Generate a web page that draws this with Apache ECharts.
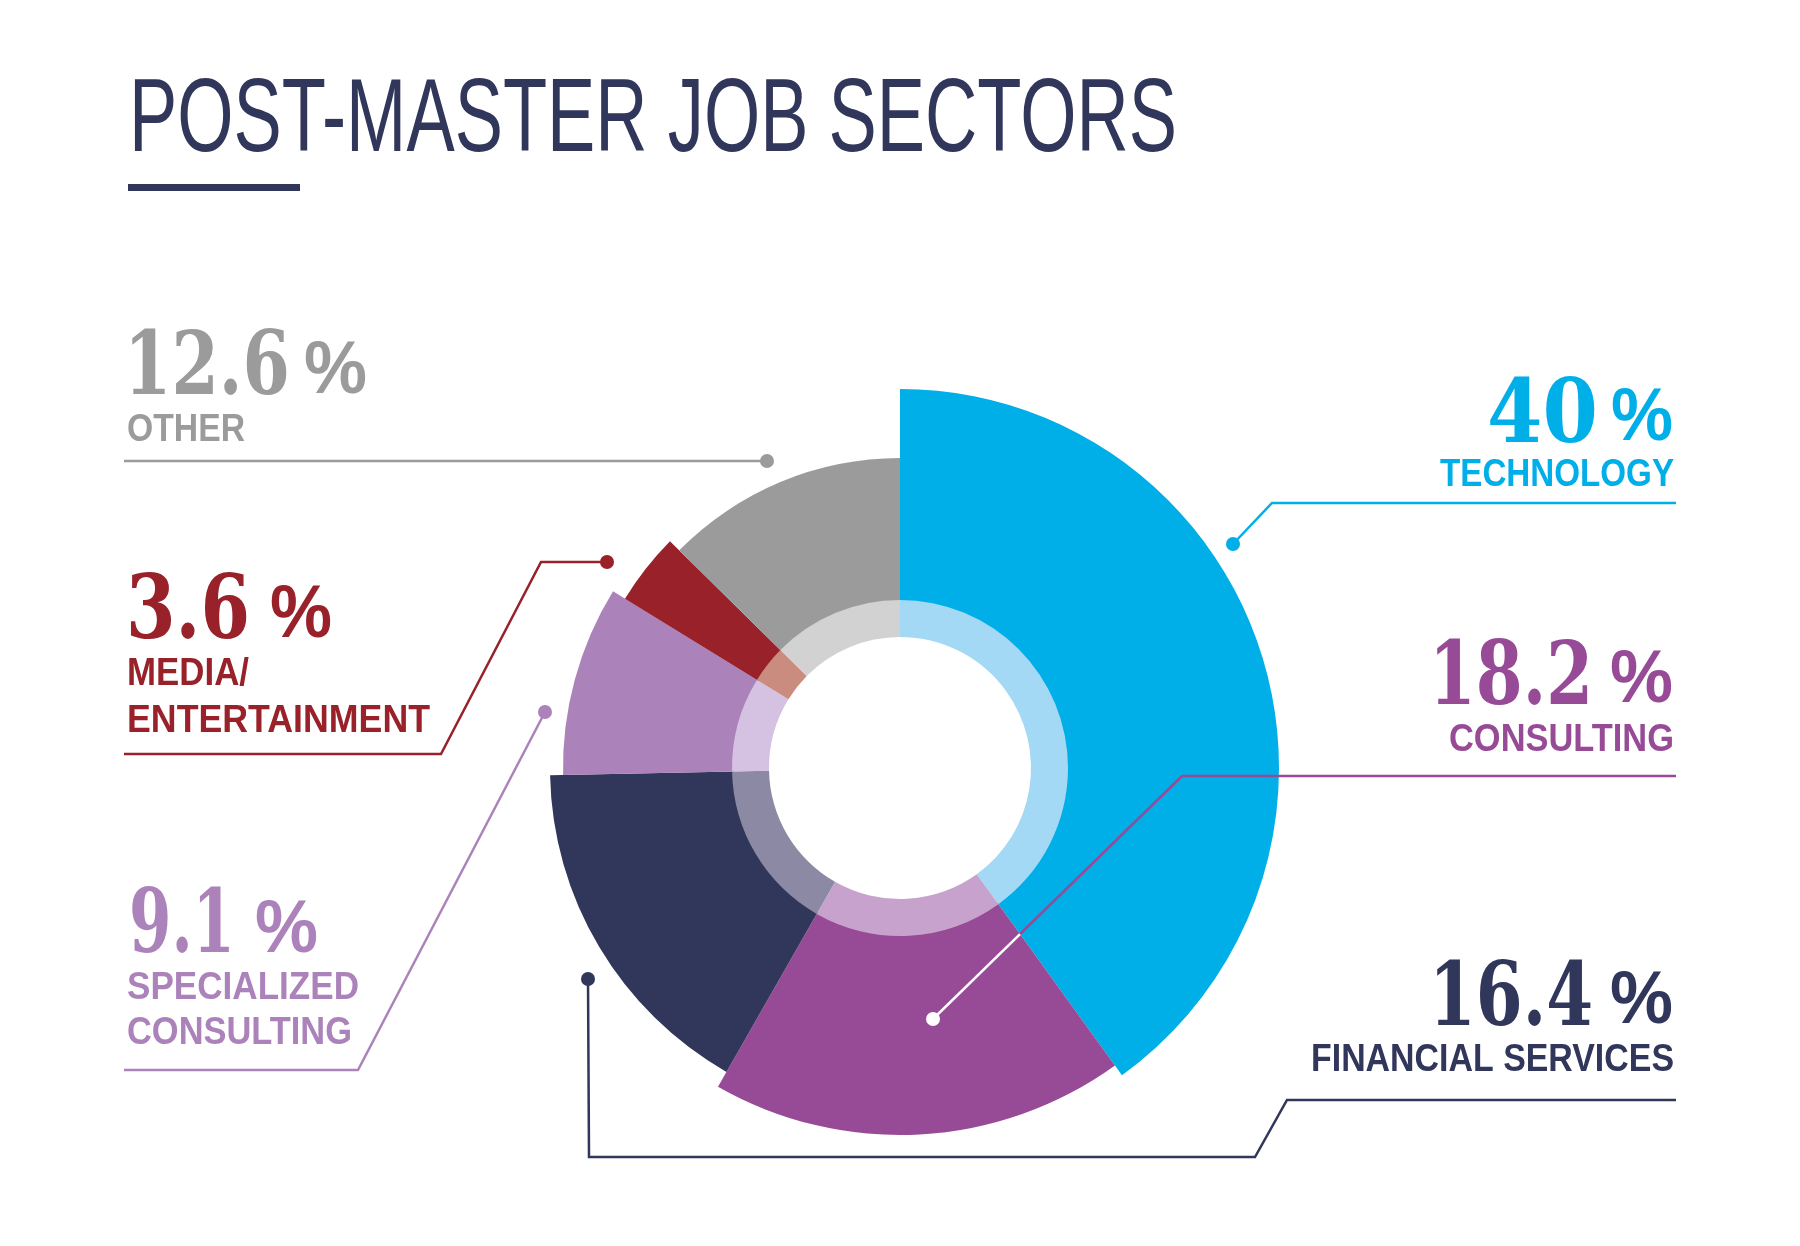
<!DOCTYPE html>
<html><head><meta charset="utf-8">
<script src="https://cdn.jsdelivr.net/npm/echarts@6/dist/echarts.min.js"></script>
<style>html,body{margin:0;padding:0;background:#fff}#chart{width:1800px;height:1246px}</style>
</head><body><div id="chart"></div>
<script>
// ---------- data ----------
const title = 'POST-MASTER JOB SECTORS';
const categories = ['Technology', 'Consulting', 'Financial Services', 'Specialized Consulting', 'Media/Entertainment', 'Other'];
const values = [40, 18.2, 16.4, 9.1, 3.6, 12.6];
const valueLabels = ['40', '18.2', '16.4', '9.1', '3.6', '12.6'];
const nameLines = [['TECHNOLOGY'], ['CONSULTING'], ['FINANCIAL SERVICES'], ['SPECIALIZED', 'CONSULTING'], ['MEDIA/', 'ENTERTAINMENT'], ['OTHER']];

// ---------- style / layout ----------
const colors = ['#00aee8', '#974b97', '#31365b', '#ab83ba', '#98212a', '#9b9b9b'];
const ringColors = ['#a3d9f5', '#c6a2cd', '#8b89a3', '#d5c1e1', '#c98c7f', '#d2d2d2'];
const outerR = [379, 367, 350, 337, 323, 310];
const CX = 900, CY = 768, R_IN = 131, R_RING = 168;
const NAVY = '#31365b';

// label layout: side, number box [x0,x1,centre], % box, name lines [x0,x1,centre]
const labelLayout = [
  {align: 'right', num: [1487, 1598, 419], pct: [1611, 1673, 420], names: [[1440, 1674, 475]]},
  {align: 'right', num: [1429, 1593, 681], pct: [1610, 1673, 682], names: [[1449, 1674, 740]]},
  {align: 'right', num: [1429, 1593, 1002], pct: [1610, 1673, 1003], names: [[1311, 1674, 1060]]},
  {align: 'left', num: [129, 235, 929], pct: [255, 318, 932], names: [[127, 359, 988], [127, 352, 1033]]},
  {align: 'left', num: [126, 250, 615], pct: [270, 332, 617], names: [[127, 249, 674], [127, 430, 721]]},
  {align: 'left', num: [124, 290, 371], pct: [304, 367, 373], names: [[127, 245, 430]]}
];
const leaderLines = [
  [[1233, 544], [1272, 503], [1676, 503]],
  [[933, 1019], [1182, 776], [1676, 776]],
  [[588, 979], [589, 1157], [1255, 1157], [1287, 1100], [1676, 1100]],
  [[545, 712], [358, 1070], [124, 1070]],
  [[607, 562], [541, 562], [441, 754], [124, 754]],
  [[767, 461], [124, 461]]
];

// ---------- helpers ----------
const mctx = document.createElement('canvas').getContext('2d');
function measure(text, font) { mctx.font = font; return mctx.measureText(text).width; }
function fitText(text, font, fill, x0, x1, cy, align) {
  const w = measure(text, font);
  const sx = (x1 - x0) / w;
  return {
    type: 'text', x: align === 'right' ? x1 : x0, y: cy, scaleX: sx, silent: true, z: 10,
    style: {text: text, font: font, fill: fill, textAlign: align, textVerticalAlign: 'middle'}
  };
}

const NUM_FONT = 'bold 88px "DejaVu Serif"';
const PCT_FONT = 'bold 74px "Liberation Sans"';
const NAME_FONT = 'bold 39px "Liberation Sans"';
const TITLE_FONT = 'normal 103px "Liberation Sans Narrow", "Liberation Sans"';

// ---------- series ----------
const total = values.reduce((a, b) => a + b, 0);
const series = [];
values.forEach((v, i) => {
  series.push({
    type: 'pie', center: [CX, CY], radius: [R_RING - 2, outerR[i]], startAngle: 90, clockwise: true,
    silent: true, animation: false, avoidLabelOverlap: false, z: 1,
    label: {show: false}, labelLine: {show: false}, emphasis: {disabled: true},
    data: categories.map((c, j) => ({name: c, value: values[j],
      itemStyle: {color: j === i ? colors[i] : 'rgba(0,0,0,0)', borderWidth: 0}}))
  });
});
series.push({
  type: 'pie', center: [CX, CY], radius: [R_IN, R_RING], startAngle: 90, clockwise: true,
  silent: true, animation: false, avoidLabelOverlap: false, z: 2,
  label: {show: false}, labelLine: {show: false}, emphasis: {disabled: true},
  data: categories.map((c, j) => ({name: c, value: values[j], itemStyle: {color: ringColors[j], borderWidth: 0}}))
});

// ---------- graphics ----------
const graphics = [];
graphics.push(fitText(title, TITLE_FONT, NAVY, 129, 1177, 123, 'left'));
graphics.push({type: 'rect', shape: {x: 128, y: 184, width: 172, height: 7}, style: {fill: NAVY}, silent: true});

values.forEach((v, i) => {
  const L = labelLayout[i];
  graphics.push(fitText(valueLabels[i], NUM_FONT, colors[i], L.num[0], L.num[1], L.num[2], L.align));
  graphics.push(fitText('%', PCT_FONT, colors[i], L.pct[0], L.pct[1], L.pct[2], L.align));
  nameLines[i].forEach((t, k) => {
    const n = L.names[k];
    graphics.push(fitText(t, NAME_FONT, colors[i], n[0], n[1], n[2], L.align));
  });
  const pts = leaderLines[i];
  graphics.push({type: 'polyline', shape: {points: pts}, style: {stroke: colors[i], lineWidth: 2.5, fill: null}, silent: true, z: 5});
  const dotColor = i === 1 ? '#ffffff' : colors[i];
  graphics.push({type: 'circle', shape: {cx: pts[0][0], cy: pts[0][1], r: 7}, style: {fill: dotColor}, silent: true, z: 7});
});

// white part of the consulting leader (inside its own slice), up to the consulting/technology boundary
(function () {
  const ang = values[0] / total * 2 * Math.PI; // clockwise from 12 o'clock
  const dx = Math.sin(ang), dy = -Math.cos(ang);
  const p0 = leaderLines[1][0], p1 = leaderLines[1][1];
  const ux = p1[0] - p0[0], uy = p1[1] - p0[1];
  const det = ux * (-dy) - uy * (-dx);
  const rx = CX - p0[0], ry = CY - p0[1];
  const s = (rx * (-dy) - ry * (-dx)) / det;
  graphics.push({type: 'line', shape: {x1: p0[0], y1: p0[1], x2: p0[0] + s * ux, y2: p0[1] + s * uy},
    style: {stroke: '#ffffff', lineWidth: 2.5}, silent: true, z: 6});
})();

const chart = echarts.init(document.getElementById('chart'), null, {renderer: 'canvas'});
chart.setOption({
  backgroundColor: '#ffffff',
  animation: false,
  tooltip: {show: false},
  series: series,
  graphic: {elements: graphics}
});
</script></body></html>
